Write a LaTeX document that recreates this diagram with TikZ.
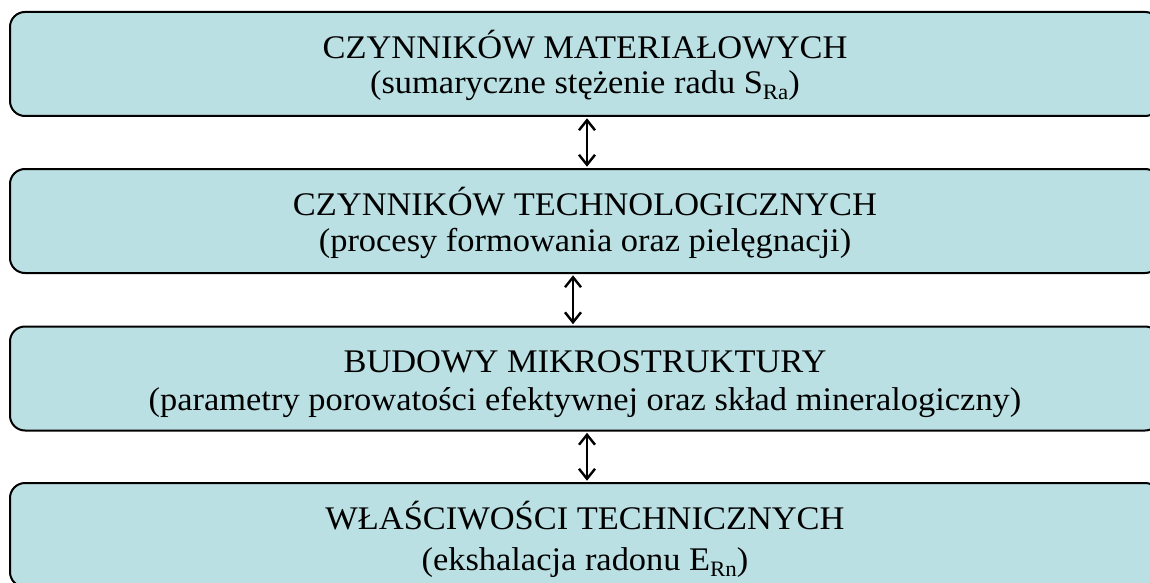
\documentclass[tikz,border=0pt]{standalone}
\usepackage{fontspec}
\setmainfont{Liberation Serif}[FakeStretch=1.043]
\usetikzlibrary{arrows.meta}
\definecolor{boxfill}{RGB}{186,224,227}
\tikzset{
  box/.style={draw=black, line width=2pt, fill=boxfill, rounded corners=15pt,
    minimum width=1150pt, minimum height=104pt, inner sep=0pt},
  txt/.style={anchor=base, inner sep=0pt, font=\fontsize{33}{36}\selectfont},
  link/.style={line width=2.6pt, {Straight Barb[length=10pt,width=16pt,line width=2.4pt]}-{Straight Barb[length=10pt,width=16pt,line width=2.4pt]}, shorten <=1.3pt, shorten >=1.3pt}
}
\newcommand{\sbs}[1]{\raisebox{-0.2em}{\fontsize{22}{22}\selectfont #1}}
\begin{document}
\begin{tikzpicture}[x=1pt,y=-1pt]
\useasboundingbox (0,0) rectangle (1150,583);
\node[box] (b1) at (585,64) {};
\node[box] (b2) at (585,221) {};
\node[box] (b3) at (585,378.5) {};
\node[box] (b4) at (585,535) {};
\node[txt] (t1a) at (585,58.3) {CZYNNIKÓW MATERIAŁOWYCH};
\node[txt] (t1b) at (585,93.3) {(sumaryczne stężenie radu S\sbs{Ra})};
\node[txt] (t2a) at (585,215) {CZYNNIKÓW TECHNOLOGICZNYCH};
\node[txt] (t2b) at (585,251.7) {(procesy formowania oraz pielęgnacji)};
\node[txt] (t3a) at (585,372) {BUDOWY MIKROSTRUKTURY};
\node[txt] (t3b) at (585,410) {(parametry porowatości efektywnej oraz skład mineralogiczny)};
\node[txt] (t4a) at (585,529.3) {WŁAŚCIWOŚCI TECHNICZNYCH};
\node[txt] (t4b) at (585,570) {(ekshalacja radonu E\sbs{Rn})};
\draw[link] ([xshift=2pt]b1.south) -- ([xshift=2pt]b2.north);
\draw[link] ([xshift=-12pt]b2.south) -- ([xshift=-12pt]b3.north);
\draw[link] ([xshift=2pt]b3.south) -- ([xshift=2pt]b4.north);
\end{tikzpicture}
\end{document}
